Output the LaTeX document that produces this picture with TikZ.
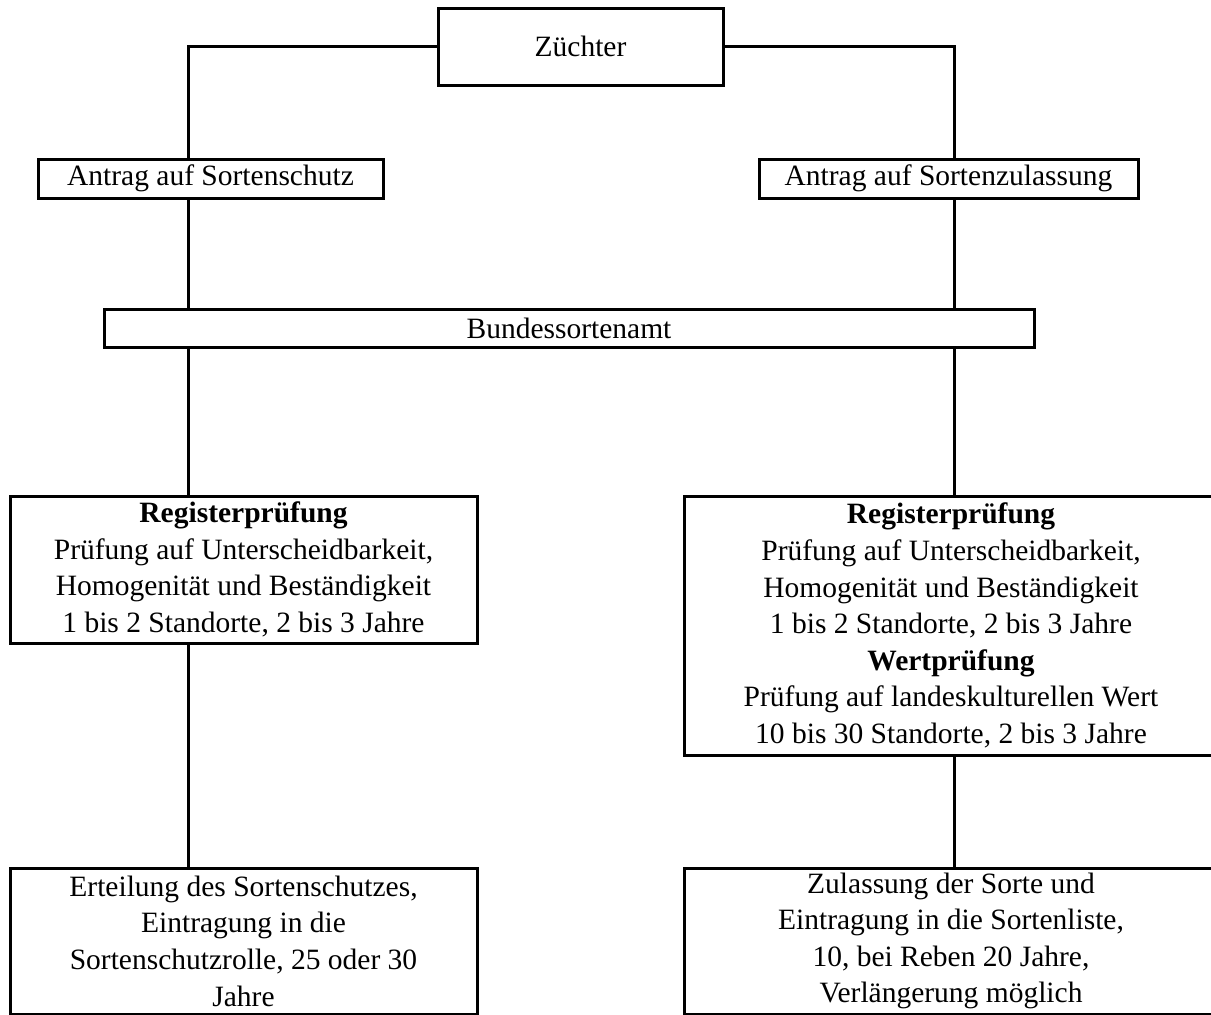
\documentclass[tikz,border=0pt]{standalone}
\usepackage{fontspec}
\setmainfont{Liberation Serif}
\begin{document}
\begin{tikzpicture}[x=1pt,y=-1pt,line width=3pt,
  box/.style={draw,inner sep=0pt,align=center,font=\fontsize{29.5}{36.6}\selectfont}]
\useasboundingbox (0,0) rectangle (1211,1015);
\clip (0,0) rectangle (1211,1015);

\coordinate (L) at (188,0);
\coordinate (R) at (954,0);

\node [box,minimum width=285,minimum height=77] (zuechter) at (580.5,46.5) {Züchter};
\node [box,minimum width=345,minimum height=39] (antragS) at (210.5,178.5) {Antrag auf Sortenschutz};
\node [box,minimum width=379,minimum height=39] (antragZ) at (948.5,178.5) {Antrag auf Sortenzulassung};
\node [box,minimum width=930,minimum height=38] (bsa) at (569,328) {Bundessortenamt};

\node [box,minimum width=467,minimum height=147] (regS) at (243.5,569.5)
  {\textbf{Registerprüfung}\\Prüfung auf Unterscheidbarkeit,\\Homogenität und Beständigkeit\\1 bis 2 Standorte, 2 bis 3 Jahre};
\node [box,minimum width=534,minimum height=259] (regZ) at (951,625.5)
  {\textbf{Registerprüfung}\\Prüfung auf Unterscheidbarkeit,\\Homogenität und Beständigkeit\\1 bis 2 Standorte, 2 bis 3 Jahre\\
   \textbf{Wertprüfung}\\Prüfung auf landeskulturellen Wert\\10 bis 30 Standorte, 2 bis 3 Jahre};

\node [box,minimum width=467,minimum height=146] (erteilung) at (243.5,941)
  {Erteilung des Sortenschutzes,\\Eintragung in die\\Sortenschutzrolle, 25 oder 30\\Jahre};
\node [box,minimum width=534,minimum height=146] (zulassung) at (951,941)
  {Zulassung der Sorte und\\Eintragung in die Sortenliste,\\10, bei Reben 20 Jahre,\\Verlängerung möglich};

\draw (zuechter.west) -| (antragS.north -| L);
\draw (zuechter.east) -| (antragZ.north -| R);
\draw (antragS.south -| L) -- (bsa.north -| L);
\draw (antragZ.south -| R) -- (bsa.north -| R);
\draw (bsa.south -| L) -- (regS.north -| L);
\draw (bsa.south -| R) -- (regZ.north -| R);
\draw (regS.south -| L) -- (erteilung.north -| L);
\draw (regZ.south -| R) -- (zulassung.north -| R);

\end{tikzpicture}
\end{document}
